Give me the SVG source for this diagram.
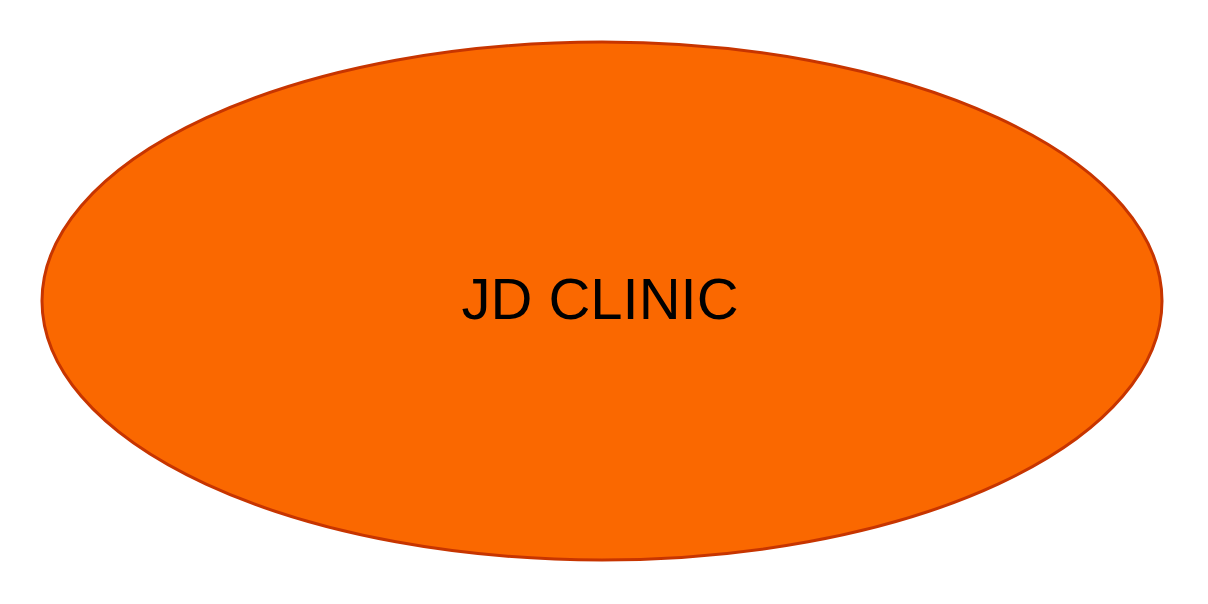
<svg xmlns="http://www.w3.org/2000/svg" width="1208" height="604" viewBox="0 0 1208 604">
<style>
.node{fill:#FA6800;stroke:#C73500;stroke-width:3}
.label{font-family:"Liberation Sans",Arial,sans-serif;font-size:58px;fill:#000;text-anchor:middle}
</style>
<rect width="1208" height="604" fill="#fff"/>
<g id="connectors"></g>
<g id="jd-clinic">
<ellipse class="node" cx="602" cy="301" rx="560" ry="259"/>
<text class="label" x="600" y="319">JD CLINIC</text>
</g>
</svg>
